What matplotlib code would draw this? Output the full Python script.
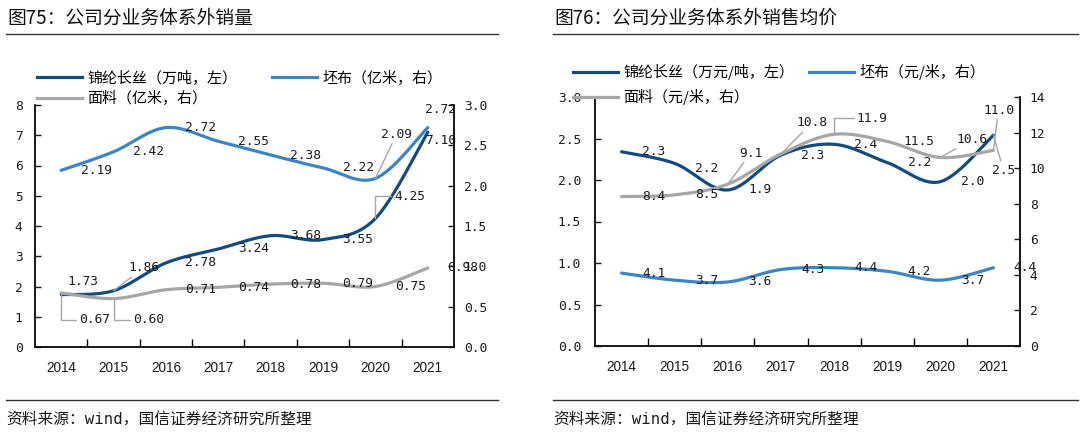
import numpy as np
import matplotlib
matplotlib.use('Agg')
import matplotlib.pyplot as plt
from matplotlib.lines import Line2D

W, H = 1080, 433

years = ['2014', '2015', '2016', '2017', '2018', '2019', '2020', '2021']

# 图75 volumes
vol_nylon = [1.73, 1.86, 2.78, 3.24, 3.68, 3.55, 4.25, 7.10]     # 万吨, left
vol_grey = [2.19, 2.42, 2.72, 2.55, 2.38, 2.22, 2.09, 2.72]      # 亿米, right
vol_fabric = [0.67, 0.60, 0.71, 0.74, 0.78, 0.79, 0.75, 0.98]    # 亿米, right

# 图76 prices
price_nylon = [2.34, 2.20, 1.88, 2.30, 2.43, 2.21, 1.98, 2.54]   # 万元/吨, left
price_grey = [4.1, 3.7, 3.6, 4.3, 4.4, 4.2, 3.7, 4.4]            # 元/米, right
price_fabric = [8.4, 8.5, 9.1, 10.8, 11.9, 11.5, 10.6, 11.0]     # 元/米, right

C_NYLON = '#144b7d'
C_GREY = '#3d84c4'
C_FABRIC = '#a6a6a6'
CJK = ['Noto Sans CJK SC', 'DejaVu Sans']
MONO = ['DejaVu Sans Mono', 'Noto Sans CJK SC']


def fxy(x, y):
    return x / W, 1 - y / H


def smooth(xs, ys, n=30):
    # excel-like smoothed line (bezier through the points)
    pts = np.column_stack([xs, ys]).astype(float)
    out = []
    t = np.linspace(0, 1, n)[:, None]
    for i in range(len(pts) - 1):
        p0 = pts[max(i - 1, 0)]
        p1 = pts[i]
        p2 = pts[i + 1]
        p3 = pts[min(i + 2, len(pts) - 1)]
        c1 = p1 + (p2 - p0) / 6
        c2 = p2 - (p3 - p1) / 6
        seg = (1 - t)**3 * p1 + 3 * (1 - t)**2 * t * c1 + 3 * (1 - t) * t**2 * c2 + t**3 * p2
        out.append(seg if i == 0 else seg[1:])
    s = np.vstack(out)
    return s[:, 0], s[:, 1]


def draw_series(ax, vals, color, fmt, offsets, default, leaders, elbows):
    x = np.arange(len(vals))
    sx, sy = smooth(x, vals)
    ax.plot(sx, sy, color=color, lw=2.3, solid_capstyle='round', zorder=3)
    for i, v in enumerate(vals):
        dx, dy = offsets.get(i, default)
        kw = {}
        if i in leaders:
            cs = 'angle,angleA=0,angleB=90,rad=0' if i in elbows else 'arc3'
            kw['arrowprops'] = dict(arrowstyle='-', color='#a6a6a6', lw=1,
                                    shrinkA=0, shrinkB=0, connectionstyle=cs)
        ax.annotate(fmt % v, (i, v), xytext=(dx, dy), textcoords='offset pixels',
                    ha='center', va='center', fontsize=9.3, family=MONO,
                    color='#1a1a1a', zorder=5, **kw)


def style_axes(ax, ax2, ylim1, yt1, fmt1, ylim2, yt2, fmt2, pad_l, pad_r):
    ax.set_xlim(-0.5, 7.5)
    ax.set_ylim(*ylim1)
    ax2.set_ylim(*ylim2)
    ax.set_yticks(yt1)
    ax.set_yticklabels([fmt1 % v for v in yt1], family=MONO, fontsize=9.3)
    ax2.set_yticks(yt2)
    ax2.set_yticklabels([fmt2 % v for v in yt2], family=MONO, fontsize=9.3)
    ax.set_xticks(np.arange(8))
    ax.set_xticklabels(years, family='Liberation Sans', fontsize=9.8)
    ax.set_xticks(np.arange(0.5, 7), minor=True)
    ax.tick_params(axis='x', which='major', length=0, pad=10, colors='#1a1a1a')
    ax.tick_params(axis='x', which='minor', direction='in', length=6, width=1)
    ax.tick_params(axis='y', direction='in', length=4, width=1, pad=pad_l, colors='#1a1a1a')
    ax2.tick_params(axis='y', direction='in', length=4, width=1, pad=pad_r, colors='#1a1a1a')
    for a in (ax, ax2):
        a.spines['top'].set_visible(False)
        for s in ('left', 'right', 'bottom'):
            a.spines[s].set_linewidth(1.1)
            a.spines[s].set_color('#111111')


fig = plt.figure(figsize=(W / 100, H / 100), dpi=100)

# ---------- left chart ----------
axL = fig.add_axes([35 / W, 1 - 347 / H, 419 / W, 242 / H])
axL2 = axL.twinx()
style_axes(axL, axL2, (0, 8), list(range(9)), '%d',
           (0, 3), [0, 0.5, 1.0, 1.5, 2.0, 2.5, 3.0], '%.1f', 9, 7)

draw_series(axL, vol_nylon, C_NYLON, '%.2f',
            {0: (22, 13), 1: (30, 23), 6: (34, 22), 7: (13, -8)}, (35, 0),
            leaders={1, 6}, elbows={6})
draw_series(axL2, vol_grey, C_GREY, '%.2f',
            {6: (21, 44), 7: (13, 18)}, (35, 0), leaders={6}, elbows=set())
draw_series(axL2, vol_fabric, C_FABRIC, '%.2f',
            {0: (33, -27), 1: (35, -21)}, (35, 0), leaders={0, 1}, elbows={0, 1})

hL = [Line2D([], [], color=C_NYLON, lw=2.3), Line2D([], [], color=C_FABRIC, lw=2.3),
      Line2D([], [], color=C_GREY, lw=2.3)]
lL = ['锦纶长丝（万吨，左）', '面料（亿米，右）', '坯布（亿米，右）']
axL2.legend(hL, lL, ncol=2, loc='upper left', bbox_to_anchor=fxy(37, 70),
            bbox_transform=fig.transFigure, frameon=False, borderpad=0,
            borderaxespad=0, handlelength=3.0, handletextpad=0.35,
            columnspacing=2.3, labelspacing=0.42, prop={'family': CJK, 'size': 10.8})

# ---------- right chart ----------
axR = fig.add_axes([595 / W, 1 - 346 / H, 425 / W, 249 / H])
axR2 = axR.twinx()
style_axes(axR, axR2, (0, 3), [0, 0.5, 1.0, 1.5, 2.0, 2.5, 3.0], '%.1f',
           (0, 14), list(range(0, 15, 2)), '%d', 10, 7)

draw_series(axR, price_nylon, C_NYLON, '%.1f',
            {1: (32, -5), 7: (10, -35)}, (32, 0), leaders={7}, elbows=set())
draw_series(axR2, price_grey, C_GREY, '%.1f', {}, (32, 0), leaders=set(), elbows=set())
draw_series(axR2, price_fabric, C_FABRIC, '%.1f',
            {2: (23, 31), 3: (31, 31), 4: (38, 16), 6: (32, 18), 7: (5, 40)}, (32, 0),
            leaders={2, 3, 4, 6, 7}, elbows={4})

hR = [Line2D([], [], color=C_NYLON, lw=2.3), Line2D([], [], color=C_FABRIC, lw=2.3),
      Line2D([], [], color=C_GREY, lw=2.3)]
lR = ['锦纶长丝（万元/吨，左）', '面料（元/米，右）', '坯布（元/米，右）']
axR2.legend(hR, lR, ncol=2, loc='upper left', bbox_to_anchor=fxy(573, 64),
            bbox_transform=fig.transFigure, frameon=False, borderpad=0,
            borderaxespad=0, handlelength=3.0, handletextpad=0.35,
            columnspacing=1.0, labelspacing=0.62, prop={'family': CJK, 'size': 10.8})

# ---------- titles, rules, sources ----------
for x0, x1, title in [(6, 498, '图75：公司分业务体系外销量'),
                      (553, 1078, '图76：公司分业务体系外销售均价')]:
    fig.text(*fxy(x0 + 1, 18), title, ha='left', va='center', fontsize=13.5,
             family=CJK, color='#111111')
    for yy in (34, 400):
        fig.add_artist(Line2D([x0 / W, x1 / W], [1 - yy / H, 1 - yy / H],
                              transform=fig.transFigure, color='#333333', lw=1))
    fig.text(*fxy(x0, 419), '资料来源：wind，国信证券经济研究所整理', ha='left',
             va='center', fontsize=11.3, family=MONO, color='#1a1a1a')

fig.savefig('out.png', dpi=100)
